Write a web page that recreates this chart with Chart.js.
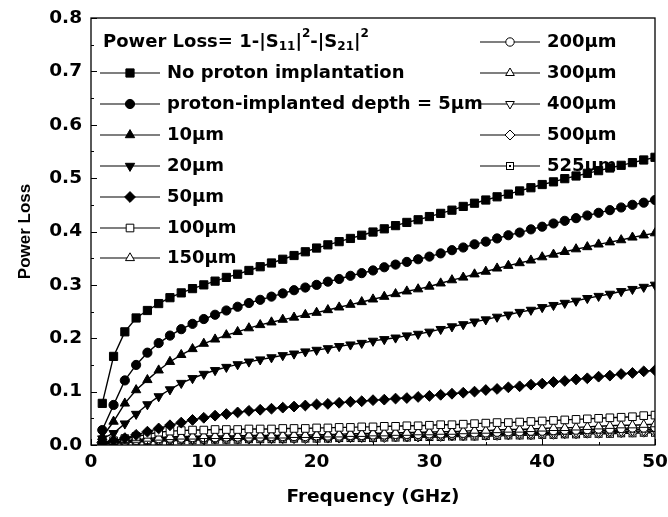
<!DOCTYPE html>
<html><head><meta charset="utf-8">
<script src="https://cdn.jsdelivr.net/npm/chart.js@4.4.0/dist/chart.umd.min.js"></script>
<style>html,body{margin:0;padding:0;background:#fff}#wrap{width:668px;height:517px;position:relative}</style>
</head><body><div id="wrap"><canvas id="c" width="668" height="517"></canvas></div>
<script>
// ---------------- data ----------------
const frequency = [1,2,3,4,5,6,7,8,9,10,11,12,13,14,15,16,17,18,19,20,21,22,23,24,25,26,27,28,29,30,31,32,33,34,35,36,37,38,39,40,41,42,43,44,45,46,47,48,49,50];
const seriesLabels = ['No proton implantation','proton-implanted depth = 5\u03bcm','10\u03bcm','20\u03bcm','50\u03bcm','100\u03bcm','150\u03bcm','200\u03bcm','300\u03bcm','400\u03bcm','500\u03bcm','525\u03bcm'];
const noImplant = [.078,.166,.212,.238,.252,.265,.276,.285,.293,.300,.307,.314,.320,.327,.334,.341,.348,.355,.362,.369,.375,.381,.387,.393,.399,.405,.411,.417,.422,.428,.434,.440,.447,.453,.459,.465,.470,.476,.482,.488,.493,.499,.504,.509,.514,.519,.524,.529,.534,.539];
const depth5 = [.028,.075,.121,.150,.173,.191,.205,.217,.227,.236,.244,.252,.259,.266,.272,.278,.284,.290,.295,.300,.306,.311,.317,.322,.327,.333,.338,.343,.348,.353,.359,.365,.370,.376,.381,.387,.393,.398,.404,.409,.415,.420,.425,.430,.435,.440,.445,.450,.454,.459];
const depth10 = [.015,.044,.078,.103,.122,.140,.156,.169,.180,.190,.198,.206,.212,.219,.225,.230,.235,.239,.244,.248,.253,.258,.263,.268,.273,.278,.283,.288,.292,.297,.303,.309,.314,.320,.325,.331,.336,.341,.346,.352,.357,.362,.367,.371,.376,.380,.384,.389,.393,.397];
const depth20 = [.012,.022,.040,.058,.076,.091,.104,.116,.125,.133,.140,.146,.151,.156,.160,.164,.168,.171,.175,.178,.181,.185,.188,.191,.195,.198,.201,.205,.208,.212,.217,.222,.226,.231,.235,.240,.244,.249,.253,.258,.262,.266,.270,.275,.279,.283,.288,.292,.296,.300];
const depth50 = [.005,.008,.013,.019,.025,.031,.037,.042,.047,.051,.055,.058,.061,.064,.066,.068,.070,.072,.074,.076,.077,.079,.081,.082,.084,.085,.087,.088,.090,.092,.094,.096,.098,.100,.103,.105,.108,.110,.113,.115,.118,.120,.123,.125,.128,.130,.133,.135,.138,.140];
const depth100 = [.004,.008,.012,.016,.020,.024,.026,.027,.028,.028,.029,.029,.029,.030,.030,.030,.031,.031,.031,.032,.032,.033,.033,.034,.034,.035,.035,.036,.036,.037,.038,.038,.039,.040,.041,.042,.042,.043,.044,.045,.046,.047,.048,.049,.050,.051,.052,.053,.055,.056];
const depth150 = [.003,.006,.008,.010,.012,.014,.015,.016,.016,.017,.017,.017,.017,.018,.018,.018,.018,.019,.019,.019,.020,.020,.021,.021,.022,.022,.023,.023,.024,.024,.025,.025,.026,.027,.027,.028,.029,.029,.030,.031,.032,.032,.033,.034,.035,.036,.037,.037,.038,.039];
const depth200 = [.002,.005,.007,.009,.010,.012,.013,.013,.014,.014,.014,.015,.015,.015,.015,.016,.016,.016,.016,.017,.017,.017,.018,.018,.019,.019,.020,.020,.020,.021,.021,.022,.022,.023,.023,.024,.025,.025,.026,.026,.027,.028,.028,.029,.030,.030,.031,.032,.032,.033];
const depth300 = [.002,.004,.006,.008,.009,.010,.011,.012,.012,.012,.013,.013,.013,.013,.014,.014,.014,.014,.015,.015,.015,.016,.016,.016,.017,.017,.018,.018,.018,.019,.019,.020,.020,.021,.021,.022,.022,.023,.023,.024,.024,.025,.026,.026,.027,.027,.028,.029,.029,.030];
const depth400 = [.002,.004,.006,.007,.008,.009,.010,.011,.011,.011,.012,.012,.012,.012,.013,.013,.013,.013,.014,.014,.014,.014,.015,.015,.015,.016,.016,.016,.017,.017,.018,.018,.018,.019,.019,.020,.020,.021,.021,.022,.022,.023,.023,.024,.024,.025,.025,.026,.026,.027];
const depth500 = [.002,.003,.005,.006,.007,.008,.009,.010,.010,.010,.011,.011,.011,.011,.012,.012,.012,.012,.012,.013,.013,.013,.014,.014,.014,.014,.015,.015,.015,.016,.016,.017,.017,.017,.018,.018,.019,.019,.019,.020,.020,.021,.021,.022,.022,.023,.023,.024,.024,.025];
const depth525 = [.002,.003,.005,.006,.007,.008,.008,.009,.009,.010,.010,.010,.010,.011,.011,.011,.011,.012,.012,.012,.012,.013,.013,.013,.013,.014,.014,.014,.015,.015,.015,.016,.016,.016,.017,.017,.018,.018,.018,.019,.019,.020,.020,.021,.021,.021,.022,.022,.023,.023];
const xTicks = [0,10,20,30,40,50];
const yTicks = [0.0,0.1,0.2,0.3,0.4,0.5,0.6,0.7,0.8];

// ---------------- styles ----------------
const dotSquare = (function(){
  const c = document.createElement('canvas'); c.width = 10; c.height = 10;
  const g = c.getContext('2d');
  g.fillStyle = '#fff'; g.fillRect(1,1,8,8);
  g.strokeStyle = '#000'; g.lineWidth = 1; g.strokeRect(1.5,1.5,7,7);
  g.fillStyle = '#000'; g.fillRect(4,4,2,2);
  return c;
})();
const allValues = [noImplant,depth5,depth10,depth20,depth50,depth100,depth150,depth200,depth300,depth400,depth500,depth525];
const styles = [
  {ps:'rect', r:5.8, fill:'#000', rot:0},
  {ps:'circle', r:4.6, fill:'#000', rot:0},
  {ps:'triangle', r:5.4, fill:'#000', rot:0},
  {ps:'triangle', r:5.4, fill:'#000', rot:180},
  {ps:'rectRot', r:5.4, fill:'#000', rot:0},
  {ps:'rect', r:5.4, fill:'#fff', rot:0},
  {ps:'triangle', r:5.2, fill:'#fff', rot:0},
  {ps:'circle', r:4.2, fill:'#fff', rot:0},
  {ps:'triangle', r:5.0, fill:'#fff', rot:0},
  {ps:'triangle', r:5.0, fill:'#fff', rot:180},
  {ps:'rectRot', r:5.0, fill:'#fff', rot:0},
  {ps:dotSquare, r:5, fill:'#fff', rot:0}
];
const FONT = 'DejaVu Sans';

const datasets = allValues.map((vals, i) => ({
  label: seriesLabels[i],
  data: frequency.map((f, j) => ({x: f, y: vals[j]})),
  borderColor: '#000', borderWidth: 1.4,
  pointStyle: styles[i].ps, pointRotation: styles[i].rot,
  pointRadius: styles[i].r, pointBackgroundColor: styles[i].fill,
  pointBorderColor: '#000', pointBorderWidth: 1,
  tension: 0, fill: false
}));

const framePlugin = {
  id: 'frame',
  afterDraw(chart) {
    const {ctx, chartArea: a, scales: {x, y}} = chart;
    ctx.save();
    ctx.strokeStyle = '#000'; ctx.lineWidth = 1.3;
    ctx.strokeRect(a.left, a.top, a.right - a.left, a.bottom - a.top);
    ctx.lineWidth = 1;
    ctx.beginPath();
    for (let v = 0; v <= 50.001; v += 5) {
      const px = Math.round(x.getPixelForValue(v)) + 0.5;
      const len = (Math.round(v) % 10 === 0) ? 6 : 3;
      ctx.moveTo(px, a.bottom); ctx.lineTo(px, a.bottom - len);
    }
    for (let k = 0; k <= 16; k++) {
      const v = k * 0.05;
      const py = Math.round(y.getPixelForValue(v)) + 0.5;
      const len = (k % 2 === 0) ? 6 : 3;
      ctx.moveTo(a.left, py); ctx.lineTo(a.left + len, py);
    }
    ctx.stroke();
    ctx.restore();
  }
};

const legendPlugin = {
  id: 'customLegend',
  afterDatasetsDraw(chart) {
    const ctx = chart.ctx;
    ctx.save();
    ctx.fillStyle = '#000';
    ctx.textBaseline = 'middle';
    const big = 'bold 18px "' + FONT + '"';
    const small = 'bold 12px "' + FONT + '"';
    let tx = 103; const ty = 42;
    const parts = [
      ['Power Loss= 1-|S', big, 0], ['11', small, 5], ['|', big, 0], ['2', small, -8],
      ['-|S', big, 0], ['21', small, 5], ['|', big, 0], ['2', small, -8]
    ];
    parts.forEach(([t, f, dy]) => { ctx.font = f; ctx.fillText(t, tx, ty + dy); tx += ctx.measureText(t).width; });

    const rowsL = [73, 104, 135, 166, 197, 228, 258];
    const rowsR = [42, 73, 104, 135, 166];
    const drawEntry = (i, x0, x1, xt, yy) => {
      ctx.strokeStyle = '#000'; ctx.lineWidth = 1.2;
      ctx.beginPath(); ctx.moveTo(x0, yy); ctx.lineTo(x1, yy); ctx.stroke();
      ctx.fillStyle = styles[i].fill; ctx.strokeStyle = '#000'; ctx.lineWidth = 1;
      Chart.helpers.drawPoint(ctx, {pointStyle: styles[i].ps, rotation: styles[i].rot, radius: styles[i].r, borderWidth: 1}, (x0 + x1) / 2, yy);
      ctx.fillStyle = '#000';
      ctx.font = big;
      ctx.fillText(seriesLabels[i], xt, yy);
    };
    for (let i = 0; i < 7; i++) drawEntry(i, 100, 160, 167, rowsL[i]);
    for (let i = 7; i < 12; i++) drawEntry(i, 480, 540, 547, rowsR[i - 7]);
    ctx.restore();
  }
};

new Chart(document.getElementById('c').getContext('2d'), {
  type: 'line',
  data: {datasets},
  options: {
    responsive: false, animation: false, devicePixelRatio: 1,
    layout: {padding: {top: 18, right: 13, left: 0, bottom: 0}},
    plugins: {legend: {display: false}, tooltip: {enabled: false}},
    scales: {
      x: {
        type: 'linear', min: 0, max: 50,
        afterBuildTicks(s) { s.ticks = xTicks.map(v => ({value: v})); },
        ticks: {color: '#000', font: {family: FONT, size: 18.5, weight: 'bold'}, padding: 6, maxRotation: 0, autoSkip: false},
        grid: {display: false, drawTicks: false}, border: {display: false},
        title: {display: true, text: 'Frequency (GHz)', color: '#000', font: {family: FONT, size: 18.5, weight: 'bold'}, padding: {top: 0, bottom: 9}},
        afterFit(s) { s.height = 72; s.paddingLeft = 0; s.paddingRight = 0; }
      },
      y: {
        type: 'linear', min: 0, max: 0.8,
        afterBuildTicks(s) { s.ticks = yTicks.map(v => ({value: v})); },
        ticks: {color: '#000', font: {family: FONT, size: 18.5, weight: 'bold'}, padding: 9, autoSkip: false, callback: v => Number(v).toFixed(1)},
        grid: {display: false, drawTicks: false}, border: {display: false},
        title: {display: true, text: 'Power Loss', color: '#000', font: {family: 'Liberation Sans', size: 17, weight: 'bold'}, padding: {top: 15, bottom: 0}},
        afterFit(s) { s.width = 91; s.paddingTop = 0; s.paddingBottom = 0; }
      }
    }
  },
  plugins: [framePlugin, legendPlugin]
});
</script>
</body></html>
